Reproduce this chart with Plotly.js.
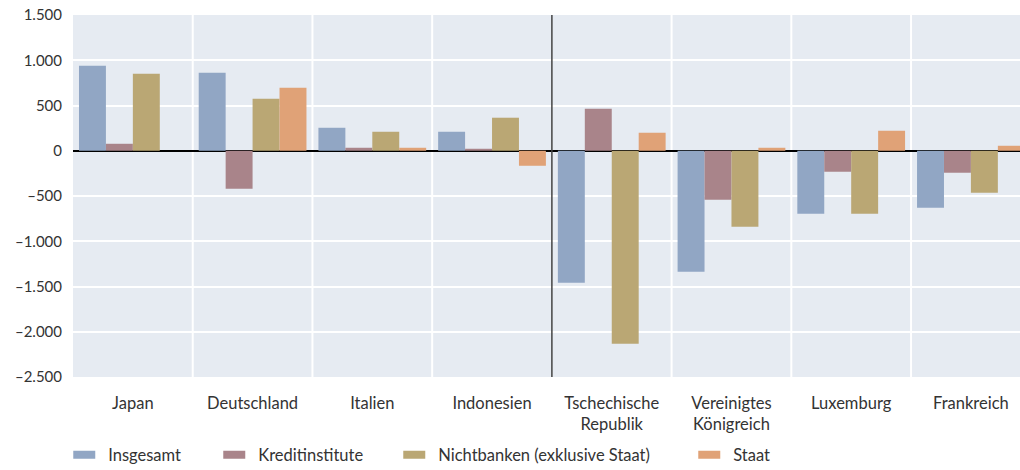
<!DOCTYPE html>
<html>
<head>
<meta charset="utf-8">
<script src="https://cdn.plot.ly/plotly-3.0.1.min.js"></script>
<style>
  html, body { margin: 0; padding: 0; background: #fff; overflow: hidden; }
  #chart { width: 1020px; height: 470px; }
</style>
</head>
<body>
<div id="chart"></div>
<script>
// Länder (Kategorien)
const countries = ['Japan', 'Deutschland', 'Italien', 'Indonesien',
    'Tschechische<br>Republik', 'Vereinigtes<br>Königreich', 'Luxemburg', 'Frankreich'];

// Werte je Sektor
const insgesamt = [940, 862, 254, 210, -1459, -1337, -696, -630];
const kreditinstitute = [77, -420, 33, 22, 464, -541, -232, -243];
const nichtbanken = [851, 575, 210, 365, -2133, -840, -696, -464];
const staat = [null, 696, 33, -166, 199, 33, 221, 55];

const yTicks = [1500, 1000, 500, 0, -500, -1000, -1500, -2000, -2500];
const yTickText = ['1.500', '1.000', '500', '0', '\u2013500', '\u20131.000', '\u20131.500', '\u20132.000', '\u20132.500'];

const family = 'Lato, "Open Sans", sans-serif';
const axisFont = {family: family, size: 15, color: '#333333'};
const labelFont = {family: family, size: 16.5, color: '#333333'};

const series = [
    {name: 'Insgesamt', y: insgesamt, color: '#91a6c4', lw: 105},
    {name: 'Kreditinstitute', y: kreditinstitute, color: '#a9848a', lw: 135},
    {name: 'Nichtbanken (exklusive Staat)', y: nichtbanken, color: '#baa774', lw: 250},
    {name: 'Staat', y: staat, color: '#e0a277', lw: 60}
];

const data = [];
series.forEach(s => {
    data.push({
        type: 'bar',
        name: s.name,
        legendgroup: s.name,
        showlegend: false,
        x: countries,
        y: s.y,
        marker: {color: s.color, line: {width: 0}}
    });
});
// Legendeneinträge als flache Rechtecke
series.forEach(s => {
    data.push({
        type: 'scatter',
        mode: 'lines',
        name: s.name,
        legendgroup: s.name,
        legendwidth: s.lw,
        x: [null],
        y: [null],
        line: {color: s.color, width: 8, dash: '22px,40px'}
    });
});

const layout = {
    width: 1020,
    height: 470,
    margin: {l: 73, r: 0, t: 15, b: 93, autoexpand: false},
    paper_bgcolor: '#ffffff',
    plot_bgcolor: '#e6ebf2',
    font: axisFont,
    barmode: 'group',
    bargap: 0.1,
    bargroupgap: 0,
    showlegend: true,
    legend: {
        orientation: 'h',
        x: -0.005,
        xanchor: 'left',
        y: -0.167,
        yanchor: 'top',
        font: labelFont,
        itemwidth: 30,
        traceorder: 'normal'
    },
    xaxis: {
        range: [-0.5, 7.41],
        showgrid: false,
        ticks: '',
        zeroline: false,
        showline: false,
        automargin: false,
        tickfont: labelFont,
        ticklabelstandoff: 14
    },
    yaxis: {
        range: [-2500, 1500],
        tickvals: yTicks,
        ticktext: yTickText,
        gridcolor: '#ffffff',
        gridwidth: 2,
        zeroline: true,
        zerolinecolor: '#000000',
        zerolinewidth: 1.5,
        showline: false,
        automargin: false,
        ticks: '',
        tickfont: axisFont,
        ticklabelstandoff: 10
    },
    shapes: [
        // vertikale Gitterlinien zwischen den Ländern
        ...[0.5, 1.5, 2.5, 4.5, 5.5, 6.5].map(v => ({
            type: 'line', xref: 'x', yref: 'paper', x0: v, x1: v, y0: 0, y1: 1,
            line: {color: '#ffffff', width: 2}, layer: 'below'
        })),
        // Trennlinie
        {
            type: 'line', xref: 'x', yref: 'paper', x0: 3.5, x1: 3.5, y0: 0, y1: 1,
            line: {color: '#444444', width: 1.5}, layer: 'above'
        }
    ]
};

Plotly.newPlot('chart', data, layout, {displayModeBar: false, staticPlot: true});
</script>
</body>
</html>
